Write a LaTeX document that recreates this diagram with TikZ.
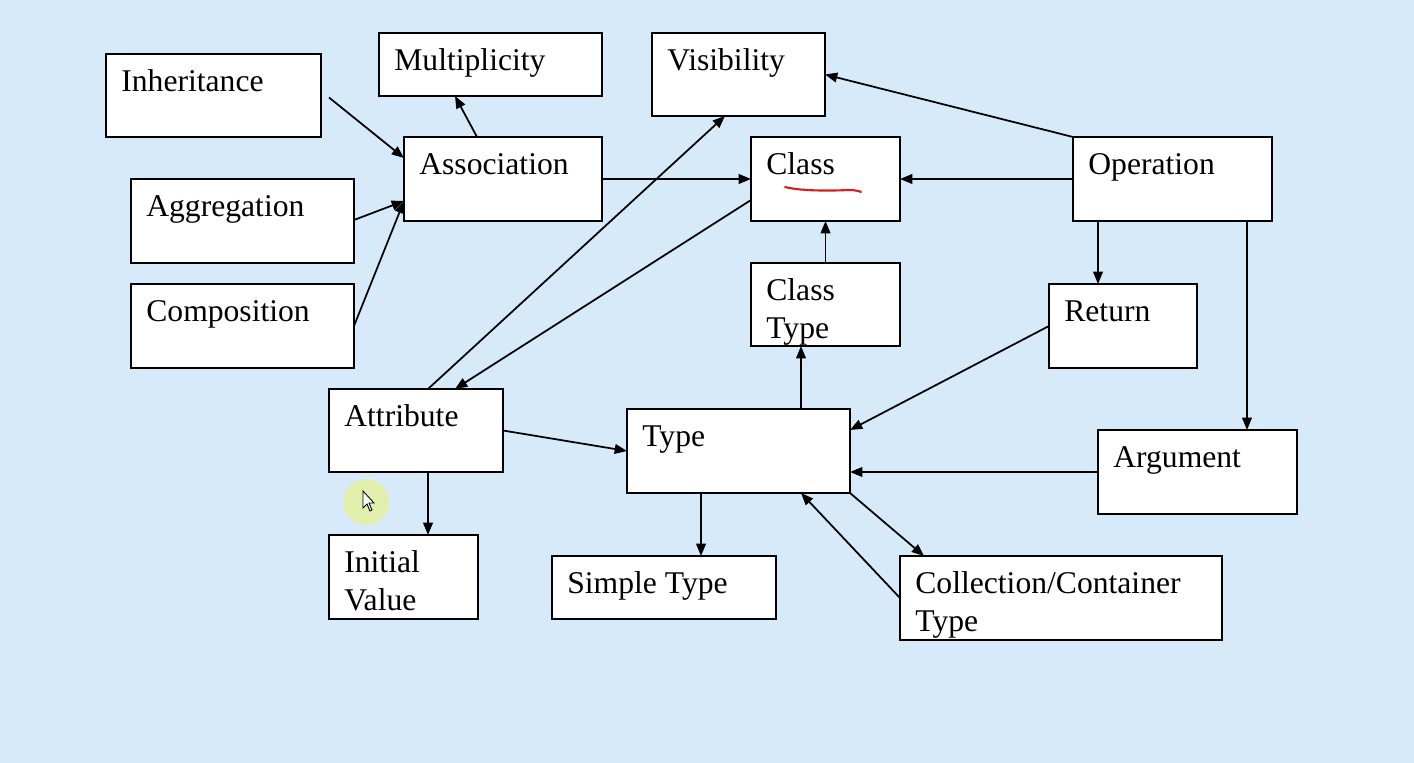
\documentclass[tikz,border=0pt]{standalone}
\usepackage{fontspec}
\setmainfont{Liberation Serif}
\usetikzlibrary{arrows.meta,calc,fit}
\definecolor{bgblue}{RGB}{214,234,250}
\definecolor{hilite}{RGB}{226,239,172}
\definecolor{penred}{RGB}{215,30,30}
\newcommand\twolines[2]{\begin{tabular}[t]{@{}l@{}}#1\\#2\end{tabular}}
\tikzset{
  box/.style={draw=black, fill=white, line width=1.1pt, inner sep=0pt, outer sep=0pt},
  txt/.style={anchor=base west, inner sep=0pt, font=\fontsize{18}{21.5}\selectfont},
  arr/.style={draw=black, line width=1pt, -{Triangle[length=7pt,width=5.5pt]}},
}
\begin{document}
\begin{tikzpicture}[x=0.02cm, y=-0.02cm]
\fill[bgblue] (0,0) rectangle (1414,763);
% boxes
\node[box, fit={(106,54)(321,137)}] (inh) {};
\node[box, fit={(379,33)(602,96)}] (mult) {};
\node[box, fit={(652,33)(825,116)}] (vis) {};
\node[box, fit={(404,137)(602,221)}] (assoc) {};
\node[box, fit={(751,137)(900,221)}] (cls) {};
\node[box, fit={(1073,137)(1272,221)}] (op) {};
\node[box, fit={(131,179)(354,263)}] (agg) {};
\node[box, fit={(131,284)(354,368)}] (comp) {};
\node[box, fit={(751,263)(900,346)}] (ct) {};
\node[box, fit={(1049,284)(1197,368)}] (ret) {};
\node[box, fit={(329,389)(503,472)}] (attr) {};
\node[box, fit={(627,409)(850,493)}] (typ) {};
\node[box, fit={(1098,430)(1297,514)}] (arg) {};
\node[box, fit={(329,535)(478,619)}] (init) {};
\node[box, fit={(552,556)(776,619)}] (simp) {};
\node[box, fit={(900,556)(1222,640)}] (coll) {};
% texts
\node[txt] (tinh) at ($(inh.north west)+(15,38)$) {Inheritance};
\node[txt] (tmult) at ($(mult.north west)+(15,38)$) {Multiplicity};
\node[txt] (tvis) at ($(vis.north west)+(15,38)$) {Visibility};
\node[txt] (tassoc) at ($(assoc.north west)+(15,38)$) {Association};
\node[txt] (tcls) at ($(cls.north west)+(15,38)$) {Class};
\node[txt] (top) at ($(op.north west)+(15,38)$) {Operation};
\node[txt] (tagg) at ($(agg.north west)+(15,38)$) {Aggregation};
\node[txt] (tcomp) at ($(comp.north west)+(15,38)$) {Composition};
\node[txt] (tct) at ($(ct.north west)+(15,38)$) {\twolines{Class}{Type}};
\node[txt] (tret) at ($(ret.north west)+(15,38)$) {Return};
\node[txt] (tattr) at ($(attr.north west)+(15,38)$) {Attribute};
\node[txt] (ttyp) at ($(typ.north west)+(15,38)$) {Type};
\node[txt] (targ) at ($(arg.north west)+(15,38)$) {Argument};
\node[txt] (tinit) at ($(init.north west)+(15,38)$) {\twolines{Initial}{Value}};
\node[txt] (tsimp) at ($(simp.north west)+(15,38)$) {Simple Type};
\node[txt] (tcoll) at ($(coll.north west)+(15,38)$) {\twolines{Collection/Container}{Type}};
% connectors
\draw[arr] ($(inh.east)+(8,2)$) -- ($(assoc.north west)+(0,21)$);
\draw[arr] ($(agg.east)+(0,-1)$) -- ($(assoc.south west)+(0,-20)$);
\draw[arr] (comp.east) -- ($(assoc.south west)+(0,-20)$);
\draw[arr] ($(assoc.north west)+(73,0)$) -- ($(mult.south west)+(76,0)$);
\draw[arr] (assoc.east) -- (cls.west);
\draw[arr] (op.west) -- (cls.east);
\draw[arr] (op.north west) -- (vis.east);
\draw[arr] ($(op.south west)+(25,0)$) coordinate (o1) -- (o1 |- ret.north);
\draw[arr] ($(op.south west)+(174,0)$) coordinate (o2) -- (o2 |- arg.north);
\draw[arr] (ct.north) -- (cls.south);
\draw[arr] ($(cls.south west)!0.25!(cls.north west)$) -- ($(attr.north west)+(126,0)$);
\draw[arr] ($(attr.north west)+(99,0)$) -- ($(vis.south west)+(73,0)$);
\draw[arr] (attr.east) -- (typ.west);
\draw[arr] ($(attr.south west)+(99,0)$) coordinate (a1) -- (a1 |- init.north);
\draw[arr] ($(typ.north west)+(174,0)$) coordinate (t1) -- (t1 |- ct.south);
\draw[arr] (ret.west) -- ($(typ.north east)+(0,21)$);
\draw[arr] (arg.west) -- (typ.east |- arg.west);
\draw[arr] ($(typ.south west)+(74,0)$) coordinate (t2) -- (t2 |- simp.north);
\draw[arr] (typ.south east) -- ($(coll.north west)+(24,0)$);
\draw[arr] ($(coll.north west)+(0,42)$) -- ($(typ.south west)+(174,0)$);
% annotations (pen stroke and pointer)
\draw[penred, line width=1.2pt, line cap=round] (785,187) .. controls (800,191) and (830,191) .. (848,190) .. controls (855,190) and (859,191) .. (861,192);
\fill[hilite] (366,502) circle (23);
\filldraw[fill=white, draw=black, line width=0.5pt] (363,491) -- (363,508) -- (367,504) -- (370,511) -- (372,510) -- (369,503) -- (374,503) -- cycle;
\end{tikzpicture}
\end{document}
